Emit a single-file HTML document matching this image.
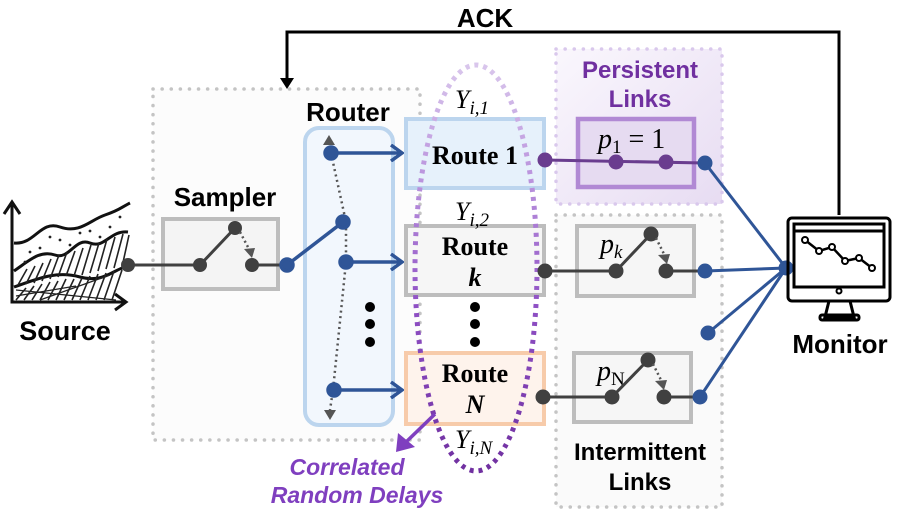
<!DOCTYPE html>
<html><head><meta charset="utf-8"><style>
html,body{margin:0;padding:0;background:#fff;}
svg{display:block;}
.b{font-family:"Liberation Sans",sans-serif;font-weight:bold;}
.s{font-family:"Liberation Serif",serif;}
</style></head><body>
<svg width="897" height="517" viewBox="0 0 897 517" xmlns="http://www.w3.org/2000/svg">
<defs>
<linearGradient id="ell" x1="0" y1="0" x2="0" y2="1">
<stop offset="0" stop-color="#d9c6ec"/><stop offset="0.3" stop-color="#b890dc"/><stop offset="0.6" stop-color="#8e4fc4"/><stop offset="1" stop-color="#7030a0"/>
</linearGradient>
<linearGradient id="pl" x1="0" y1="0" x2="1" y2="1"><stop offset="0" stop-color="#faf7fd"/><stop offset="1" stop-color="#e7dcf2"/></linearGradient>
<marker id="ba" markerWidth="16" markerHeight="18" refX="13" refY="9" orient="auto" markerUnits="userSpaceOnUse"><path d="M2,1 L13,9 L2,17" fill="none" stroke="#2f5597" stroke-width="3.5"/></marker>
</defs>

<text x="485" y="27" class="b" font-size="26" text-anchor="middle">ACK</text>
<polyline points="839,215 839,32 287,32 287,80" fill="none" stroke="#000" stroke-width="3"/>
<path d="M280,78 L294,78 L287,89 Z" fill="#000"/>

<rect x="153" y="89" width="267" height="351" fill="#fcfcfc" stroke="#c4c4c4" stroke-width="3.5" stroke-dasharray="0.1 9" stroke-linecap="round"/>
<rect x="556" y="49" width="166" height="155" fill="url(#pl)" stroke="#d9c8ec" stroke-width="3.5" stroke-dasharray="0.1 9" stroke-linecap="round"/>
<rect x="556" y="215" width="166" height="292" fill="#fafafa" stroke="#c4c4c4" stroke-width="3.5" stroke-dasharray="0.1 9" stroke-linecap="round"/>

<text x="640" y="78" class="b" font-size="24" fill="#7030a0" text-anchor="middle">Persistent</text>
<text x="640" y="107" class="b" font-size="24" fill="#7030a0" text-anchor="middle">Links</text>
<text x="640" y="460" class="b" font-size="24" text-anchor="middle">Intermittent</text>
<text x="640" y="490" class="b" font-size="24" text-anchor="middle">Links</text>

<g fill="none" stroke="#111" stroke-width="3">
<polyline points="12,205 12,302 124,302"/>
<path d="M4,214 L12,202 L20,214"/><path d="M115,294 L126,302 L115,310"/>
<path d="M14,243 C35,245 40,220 60,227 S90,220 105,215 S120,208 130,203"/>
<path d="M14,271 C30,260 40,250 55,255 S75,237 90,243 S110,230 128,232"/>
<path d="M14,287 C35,280 55,270 80,277 S115,267 128,267"/>
</g>
<g stroke="#222" stroke-width="1.6">
<path d="M18,285 l9,-16 M26,284 l9,-18 M34,283 l9,-20 M42,281 l9,-22 M50,279 l9,-24 M58,277 l9,-25 M66,276 l9,-25 M74,276 l9,-28 M82,275 l9,-30 M90,273 l9,-30 M98,271 l9,-32 M106,269 l9,-32 M114,268 l9,-34 M122,267 l7,-32"/>
<path d="M16,300 l10,-12 M24,300 l10,-14 M32,300 l10,-16 M40,300 l10,-18 M48,300 l10,-19 M56,300 l10,-21 M64,300 l10,-21 M72,300 l10,-22 M80,300 l10,-24 M88,300 l10,-26 M96,300 l10,-27 M104,300 l10,-29 M112,300 l10,-30"/>
<path d="M16,290 l100,10 M16,296 l60,-10 M40,300 l70,-25" stroke-width="1.2"/>
</g>
<g fill="#222"><circle cx="30" cy="252" r="1.4"/><circle cx="50" cy="237" r="1.4"/><circle cx="70" cy="245" r="1.4"/><circle cx="90" cy="231" r="1.4"/><circle cx="110" cy="227" r="1.4"/><circle cx="120" cy="217" r="1.4"/><circle cx="25" cy="262" r="1.4"/><circle cx="80" cy="233" r="1.4"/><circle cx="100" cy="237" r="1.4"/><circle cx="60" cy="240" r="1.4"/><circle cx="40" cy="248" r="1.4"/></g>
<text x="65" y="340" class="b" font-size="27" text-anchor="middle">Source</text>

<text x="225" y="206" class="b" font-size="26" text-anchor="middle">Sampler</text>
<rect x="163" y="219" width="115" height="70" fill="#f4f4f4" stroke="#bdbdbd" stroke-width="4"/>
<g stroke="#404040" stroke-width="3" fill="#404040">
<line x1="128" y1="265" x2="200" y2="265"/><line x1="200" y1="265" x2="235" y2="228"/><line x1="252" y1="265" x2="287" y2="265"/>
<circle cx="128" cy="265" r="5.5"/><circle cx="200" cy="265" r="5.5"/><circle cx="235" cy="228" r="5.5"/><circle cx="252" cy="265" r="5.5"/>
</g>
<line x1="240" y1="232" x2="249" y2="249" stroke="#555" stroke-width="2.5" stroke-dasharray="2 3"/>
<path d="M244,249 L255,248 L252,258 Z" fill="#555"/>

<text x="348" y="121" class="b" font-size="26" text-anchor="middle">Router</text>
<rect x="305" y="128" width="88" height="297" rx="14" fill="#f2f7fd" stroke="#bcd5ee" stroke-width="4"/>
<polyline points="331,153 346,222 346,262 333,390 330,410" fill="none" stroke="#555" stroke-width="2.5" stroke-dasharray="2 3.5"/>
<path d="M324,410 L336,410 L330,420 Z" fill="#555"/>
<line x1="331" y1="153" x2="329" y2="143" stroke="#555" stroke-width="2.5" stroke-dasharray="2 3"/>
<path d="M323,145 L335,145 L329,135 Z" fill="#555"/>
<g stroke="#2f5597" stroke-width="3.5" fill="#2f5597">
<line x1="287" y1="265" x2="343" y2="222"/>
<circle cx="287" cy="265" r="6"/><circle cx="343" cy="222" r="6"/>
<line x1="331" y1="153" x2="402" y2="153" marker-end="url(#ba)"/><circle cx="331" cy="153" r="6"/>
<line x1="346" y1="262" x2="402" y2="262" marker-end="url(#ba)"/><circle cx="346" cy="262" r="6"/>
<line x1="334" y1="390" x2="402" y2="390" marker-end="url(#ba)"/><circle cx="334" cy="390" r="6"/>
</g>
<g fill="#000"><circle cx="370" cy="307" r="5"/><circle cx="370" cy="324" r="5"/><circle cx="370" cy="342" r="5"/>
<circle cx="475" cy="307" r="5"/><circle cx="475" cy="324" r="5"/><circle cx="475" cy="342" r="5"/></g>

<rect x="406" y="119" width="138" height="69" fill="#e6f1fb" stroke="#bcd5ee" stroke-width="4"/>
<rect x="406" y="226" width="138" height="69" fill="#f6f6f6" stroke="#bdbdbd" stroke-width="4"/>
<rect x="406" y="353" width="138" height="71" fill="#fef3ec" stroke="#f7cbaa" stroke-width="4"/>
<text x="475" y="164" class="s" font-weight="bold" font-size="26" text-anchor="middle">Route 1</text>
<text x="475" y="255" class="s" font-weight="bold" font-size="26" text-anchor="middle">Route</text>
<text x="475" y="286" class="s" font-weight="bold" font-style="italic" font-size="26" text-anchor="middle">k</text>
<text x="475" y="382" class="s" font-weight="bold" font-size="26" text-anchor="middle">Route</text>
<text x="475" y="413" class="s" font-weight="bold" font-style="italic" font-size="26" text-anchor="middle">N</text>

<ellipse cx="476" cy="268" rx="61" ry="203" fill="none" stroke="url(#ell)" stroke-width="5" stroke-dasharray="4 5"/>
<text x="455" y="108" class="s" font-style="italic" font-size="26">Y<tspan font-size="19" dy="6">i,1</tspan></text>
<text x="455" y="220" class="s" font-style="italic" font-size="26">Y<tspan font-size="19" dy="6">i,2</tspan></text>
<text x="455" y="448" class="s" font-style="italic" font-size="26">Y<tspan font-size="19" dy="6">i,N</tspan></text>

<line x1="435" y1="414" x2="404" y2="444" stroke="#7f3fbf" stroke-width="3.5"/>
<path d="M396,452 L398,433 L415,447 Z" fill="#7f3fbf"/>
<text x="347" y="475" class="b" font-style="italic" font-size="23" fill="#7f3fbf" text-anchor="middle">Correlated</text>
<text x="357" y="503" class="b" font-style="italic" font-size="23" fill="#7f3fbf" text-anchor="middle">Random Delays</text>

<rect x="578" y="119" width="116" height="68" fill="#e6dbf1" stroke="#b189d4" stroke-width="4.5"/>
<text x="598" y="148" class="s" font-size="28"><tspan font-style="italic">p</tspan><tspan font-size="19" dy="5">1</tspan><tspan dy="-5"> = 1</tspan></text>
<g stroke="#6a3d8f" stroke-width="3" fill="#6a3d8f">
<line x1="545" y1="160" x2="705" y2="163"/>
<circle cx="545" cy="160" r="6"/><circle cx="616" cy="162" r="6"/><circle cx="666" cy="162" r="6"/>
</g>

<rect x="577" y="226" width="117" height="70" fill="#f6f6f6" stroke="#bdbdbd" stroke-width="4"/>
<text x="600" y="253" class="s" font-style="italic" font-size="28">p<tspan font-size="19" dy="5">k</tspan></text>
<g stroke="#404040" stroke-width="3" fill="#404040">
<line x1="545" y1="271" x2="616" y2="271"/><line x1="616" y1="271" x2="651" y2="234"/><line x1="666" y1="271" x2="705" y2="271"/>
<circle cx="545" cy="271" r="6"/><circle cx="616" cy="271" r="6"/><circle cx="651" cy="234" r="6"/><circle cx="666" cy="271" r="6"/>
</g>
<line x1="656" y1="238" x2="664" y2="254" stroke="#555" stroke-width="2.5" stroke-dasharray="2 3"/>
<path d="M658,255 L670,254 L667,264 Z" fill="#555"/>

<rect x="574" y="353" width="117" height="69" fill="#f6f6f6" stroke="#bdbdbd" stroke-width="4"/>
<text x="597" y="380" class="s" font-size="28"><tspan font-style="italic">p</tspan><tspan font-size="19" dy="5">N</tspan></text>
<g stroke="#404040" stroke-width="3" fill="#404040">
<line x1="543" y1="397" x2="612" y2="397"/><line x1="612" y1="397" x2="648" y2="360"/><line x1="664" y1="397" x2="700" y2="397"/>
<circle cx="543" cy="397" r="6"/><circle cx="612" cy="397" r="6"/><circle cx="648" cy="360" r="6"/><circle cx="664" cy="397" r="6"/>
</g>
<line x1="653" y1="364" x2="661" y2="380" stroke="#555" stroke-width="2.5" stroke-dasharray="2 3"/>
<path d="M655,381 L667,380 L664,390 Z" fill="#555"/>

<g stroke="#2f5597" stroke-width="3" fill="#2f5597">
<line x1="705" y1="163" x2="786" y2="268"/>
<line x1="705" y1="271" x2="786" y2="268"/>
<line x1="708" y1="333" x2="786" y2="268"/>
<line x1="700" y1="397" x2="786" y2="268"/>
<circle cx="705" cy="163" r="6"/><circle cx="705" cy="271" r="6"/><circle cx="708" cy="333" r="6"/><circle cx="700" cy="397" r="6"/><circle cx="786" cy="268" r="6"/>
</g>

<g fill="none" stroke="#000" stroke-width="3">
<rect x="788" y="218" width="102" height="83" rx="4"/>
<rect x="794" y="224" width="90" height="63"/>
<line x1="794" y1="231" x2="884" y2="231"/>
<path d="M829,301 L825,317 L854,317 L850,301"/>
<rect x="820" y="315" width="39" height="5" rx="2"/>
</g>
<circle cx="839" cy="291" r="2.5" fill="none" stroke="#000" stroke-width="2"/>
<polyline points="805,240 819,251 832,247 845,261 859,258 872,268" fill="none" stroke="#000" stroke-width="2.5"/>
<g fill="#fff" stroke="#000" stroke-width="2"><circle cx="805" cy="240" r="3"/><circle cx="819" cy="251" r="3"/><circle cx="832" cy="247" r="3"/><circle cx="845" cy="261" r="3"/><circle cx="859" cy="258" r="3"/><circle cx="872" cy="268" r="3"/></g>
<text x="840" y="353" class="b" font-size="26" text-anchor="middle">Monitor</text>
</svg>
</body></html>
